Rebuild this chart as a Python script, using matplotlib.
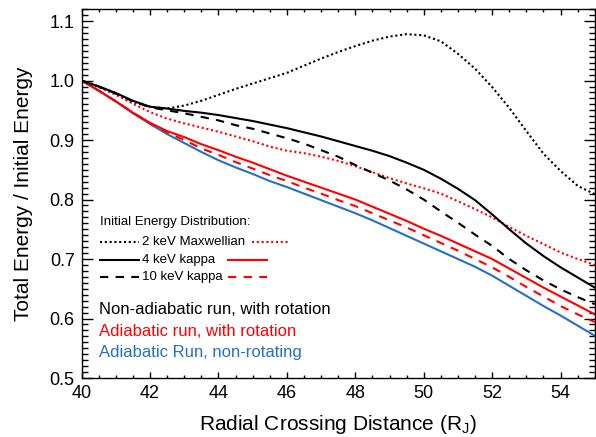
import matplotlib
matplotlib.use("Agg")
import matplotlib.pyplot as plt
from matplotlib.ticker import MultipleLocator
from matplotlib.lines import Line2D

plt.rcParams['font.family'] = ['Liberation Sans', 'DejaVu Sans']
plt.rcParams['mathtext.fontset'] = 'custom'
plt.rcParams['mathtext.rm'] = 'Liberation Sans'
plt.rcParams['mathtext.it'] = 'Liberation Sans'

x = [40, 40.5, 41, 41.5, 42, 42.5, 43, 43.5, 44, 44.5, 45, 45.5, 46, 46.5, 47, 47.5,
     48, 48.5, 49, 49.5, 50, 50.5, 51, 51.5, 52, 52.5, 53, 53.5, 54, 54.5, 55]

nonad_maxw = [1.000, 0.990, 0.979, 0.964, 0.956, 0.953, 0.958, 0.966, 0.976, 0.986, 0.995,
              1.004, 1.013, 1.025, 1.037, 1.048, 1.058, 1.067, 1.074, 1.078, 1.076, 1.066,
              1.045, 1.020, 0.989, 0.954, 0.915, 0.877, 0.848, 0.823, 0.809]
nonad_k4 = [1.000, 0.990, 0.979, 0.966, 0.956, 0.953, 0.949, 0.946, 0.942, 0.937, 0.932,
            0.926, 0.920, 0.913, 0.906, 0.898, 0.890, 0.882, 0.873, 0.862, 0.850, 0.835,
            0.818, 0.799, 0.775, 0.750, 0.726, 0.705, 0.686, 0.669, 0.652]
nonad_k10 = [1.000, 0.990, 0.978, 0.965, 0.955, 0.950, 0.945, 0.939, 0.933, 0.925, 0.919,
             0.911, 0.903, 0.894, 0.883, 0.872, 0.858, 0.845, 0.832, 0.817, 0.800, 0.780,
             0.761, 0.741, 0.722, 0.700, 0.681, 0.664, 0.649, 0.636, 0.624]
ad_maxw = [1.000, 0.989, 0.976, 0.961, 0.947, 0.936, 0.928, 0.921, 0.914, 0.906, 0.898,
           0.889, 0.882, 0.878, 0.872, 0.865, 0.856, 0.846, 0.836, 0.827, 0.819, 0.810,
           0.797, 0.784, 0.770, 0.754, 0.739, 0.725, 0.711, 0.700, 0.690]
ad_k4 = [1.000, 0.983, 0.965, 0.946, 0.929, 0.915, 0.905, 0.893, 0.883, 0.872, 0.862,
         0.851, 0.840, 0.830, 0.820, 0.810, 0.800, 0.788, 0.776, 0.764, 0.751, 0.739,
         0.726, 0.713, 0.700, 0.684, 0.668, 0.652, 0.637, 0.622, 0.607]
ad_k10 = [1.000, 0.983, 0.965, 0.946, 0.928, 0.913, 0.900, 0.886, 0.875, 0.863, 0.852,
          0.841, 0.831, 0.820, 0.810, 0.799, 0.789, 0.777, 0.765, 0.753, 0.740, 0.727,
          0.714, 0.700, 0.686, 0.670, 0.653, 0.637, 0.621, 0.607, 0.594]
ad_norot = [1.000, 0.983, 0.965, 0.945, 0.927, 0.910, 0.895, 0.880, 0.866, 0.854, 0.843,
            0.831, 0.821, 0.810, 0.799, 0.788, 0.777, 0.765, 0.752, 0.739, 0.726, 0.713,
            0.700, 0.687, 0.672, 0.655, 0.638, 0.621, 0.605, 0.588, 0.571]

RED = '#ff0000'
BLUE = '#2670c0'
LW = 1.5
DOT = (0, (1, 1.3))
DASH = (0, (4, 3.5))

fig = plt.figure(figsize=(5.96, 4.37), dpi=100)
ax = fig.add_axes([0.137, 0.135, 0.861, 0.844])

ax.plot(x, ad_norot, color=BLUE, lw=LW)
ax.plot(x, ad_k10, color=RED, lw=LW, ls=DASH)
ax.plot(x, ad_k4, color=RED, lw=LW)
ax.plot(x, ad_maxw, color=RED, lw=LW, ls=DOT)
ax.plot(x, nonad_k10, color='black', lw=LW, ls=DASH)
ax.plot(x, nonad_k4, color='black', lw=LW)
ax.plot(x, nonad_maxw, color='black', lw=LW, ls=DOT)

ax.set_xlim(40, 55)
ax.set_ylim(0.5, 1.12)
ax.xaxis.set_major_locator(MultipleLocator(2))
ax.xaxis.set_minor_locator(MultipleLocator(0.5))
ax.yaxis.set_minor_locator(MultipleLocator(0.01))
ax.set_yticks([0.5, 0.6, 0.7, 0.8, 0.9, 1.0, 1.1])
ax.set_yticklabels(['0.5', '0.6', '0.7', '0.8', '0.9', '1.0', '1.1'])
ax.tick_params(axis='both', which='both', direction='in', top=True, right=True,
               labelsize=13, width=1.0, color='black')
ax.tick_params(axis='x', which='major', length=4.3, pad=5)
ax.tick_params(axis='x', which='minor', length=2.2)
ax.tick_params(axis='y', which='major', length=7.9, pad=5)
ax.tick_params(axis='y', which='minor', length=4.0)
for s in ax.spines.values():
    s.set_linewidth(1.0)

ax.set_xlabel('Radial Crossing Distance (R$_\\mathregular{J}$)', fontsize=15)
ax.set_ylabel('Total Energy / Initial Energy', fontsize=15)
ax.xaxis.set_label_coords(0.5, -0.095)
ax.yaxis.set_label_coords(-0.094, 0.5)


def fx(px):
    return px / 596.0


def fy(py):
    return 1 - py / 437.0


fs_small = 9.5
fig.text(fx(100), fy(222.5), 'Initial Energy Distribution:', fontsize=fs_small, va='center', ha='left')
rows = [('2 keV Maxwellian', DOT, 242.3, 251.7, 290),
        ('4 keV kappa', '-', 260.0, 228, 267),
        ('10 keV kappa', DASH, 277.3, 228, 267)]
for label, ls, py, rx0, rx1 in rows:
    fig.add_artist(Line2D([fx(100), fx(139)], [fy(py), fy(py)], color='black', lw=LW, ls=ls))
    fig.text(fx(141.5), fy(py), label, fontsize=fs_small, va='center', ha='left')
    fig.add_artist(Line2D([fx(rx0), fx(rx1)], [fy(py), fy(py)], color=RED, lw=LW, ls=ls))

fs_big = 12
fig.text(fx(99), fy(309.5), 'Non-adiabatic run, with rotation', fontsize=fs_big, va='center', ha='left', color='black')
fig.text(fx(99), fy(331.5), 'Adiabatic run, with rotation', fontsize=fs_big, va='center', ha='left', color=RED)
fig.text(fx(99), fy(353), 'Adiabatic Run, non-rotating', fontsize=fs_big, va='center', ha='left', color=BLUE)

fig.savefig('out.png', dpi=100)
